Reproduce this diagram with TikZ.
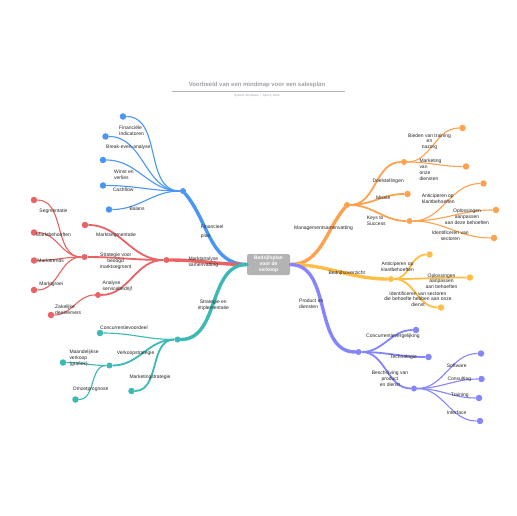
\documentclass[tikz,border=0pt]{standalone}
\usepackage{fontspec}
\setmainfont{Liberation Sans}
\usetikzlibrary{positioning}
\definecolor{finblue}{HTML}{4A96F5}
\definecolor{marktred}{HTML}{E86464}
\definecolor{stratteal}{HTML}{3BB9B4}
\definecolor{mgmtorange}{HTML}{FFA24F}
\definecolor{overzyellow}{HTML}{FFBF46}
\definecolor{prodpurple}{HTML}{8585FF}
\definecolor{centgray}{HTML}{B3B3B3}
\definecolor{titlegray}{HTML}{A0A0A8}

\begin{document}
\begin{tikzpicture}[
  x=1bp,y=-1bp,
  dot/.style={circle,fill,inner sep=0pt,minimum size=6.5bp},
  hub/.style={circle,fill,inner sep=0pt,minimum size=6bp},
  lbl/.style={font=\fontsize{5}{6}\selectfont,text=black!85,inner sep=0pt,anchor=west,align=left},
  clbl/.style={font=\fontsize{5}{6}\selectfont,text=black!85,inner sep=0pt,align=center},
  main/.style={line width=3.4bp,line cap=round},
  sub/.style={line width=1.8bp},
  leaf/.style={line width=1.1bp}
]
\fill[white] (0,0) rectangle (516,516);
\useasboundingbox (0,0) rectangle (516,516);

% title
\node[font=\bfseries\fontsize{6}{7}\selectfont,text=titlegray] (title) at (257,85) {Voorbeeld van een mindmap voor een salesplan};
\draw[titlegray!80,line width=0.5bp] (172,91) -- (345,91);
\node[font=\fontsize{3}{4}\selectfont,text=titlegray] (subtitle) at (257,95.5) {System Templates \ | \ April 4, 2023};

% center
\node[fill=centgray,rounded corners=2bp,minimum width=43bp,minimum height=21bp,inner sep=1bp,
  text=white,font=\bfseries\fontsize{5}{6}\selectfont,align=center] (plan) at (268.5,264.5) {Bedrijfsplan\\voor de\\verkoop};

% Financieel plan
\node[hub,fill=finblue] (fin) at (183,191) {};
\node[dot,fill=finblue] (indic) at (123,116.5) {};
\node[dot,fill=finblue] (breakeven) at (105.5,136.5) {};
\node[dot,fill=finblue] (winst) at (103,160) {};
\node[dot,fill=finblue] (cash) at (103,185.5) {};
\node[dot,fill=finblue] (balans) at (109,209.5) {};
\draw[main,finblue] (plan.west) to[out=180,in=-50] (fin);
\foreach \n in {indic,breakeven,winst,cash,balans}
  \draw[leaf,finblue] (fin) to[out=180,in=0] (\n);

% Marktanalyse
\node[hub,fill=marktred] (markt) at (166.5,260) {};
\node[dot,fill=marktred] (segm) at (85,225) {};
\node[hub,fill=marktred] (beoogd) at (84.5,257) {};
\node[hub,fill=marktred] (analyse) at (98,295) {};
\node[dot,fill=marktred] (segment) at (34,200) {};
\node[dot,fill=marktred] (behoeften) at (34,232.5) {};
\node[dot,fill=marktred] (trends) at (34,260.5) {};
\node[dot,fill=marktred] (groei) at (34,290) {};
\node[dot,fill=marktred] (deelnemers) at (51,315) {};
\draw[main,marktred] (plan.west) to[out=180,in=0] (markt);
\foreach \n in {segm,beoogd,analyse}
  \draw[sub,marktred] (markt) to[out=180,in=0] (\n);
\foreach \n in {segment,behoeften,trends,groei}
  \draw[leaf,marktred] (beoogd) to[out=180,in=0] (\n);
\draw[leaf,marktred] (analyse) to[out=180,in=0] (deelnemers);

% Strategie en implementatie
\node[hub,fill=stratteal] (strat) at (177.5,339.5) {};
\node[dot,fill=stratteal] (voordeel) at (100,333) {};
\node[hub,fill=stratteal] (verkoop) at (109.5,365.5) {};
\node[dot,fill=stratteal] (marketing) at (131.5,391) {};
\node[dot,fill=stratteal] (maand) at (63,362.5) {};
\node[dot,fill=stratteal] (omzet) at (75.5,399.5) {};
\draw[main,stratteal] (plan.west) to[out=180,in=0] (strat);
\draw[leaf,stratteal] (strat) to[out=180,in=0] (voordeel);
\draw[sub,stratteal] (strat) to[out=180,in=0] (verkoop);
\draw[sub,stratteal] (strat) to[out=180,in=0] (marketing);
\draw[leaf,stratteal] (verkoop) to[out=180,in=0] (maand);
\draw[leaf,stratteal] (verkoop) to[out=180,in=0] (omzet);

% Managementsamenvatting
\node[hub,fill=mgmtorange] (mgmt) at (347,205) {};
\node[hub,fill=mgmtorange] (doel) at (404,162) {};
\node[dot,fill=mgmtorange] (missie) at (407.5,194) {};
\node[hub,fill=mgmtorange] (keys) at (409.5,221) {};
\node[dot,fill=mgmtorange] (bieden) at (462.5,128) {};
\node[dot,fill=mgmtorange] (mkt) at (466,166.5) {};
\node[dot,fill=mgmtorange] (antic) at (483.5,183.5) {};
\node[dot,fill=mgmtorange] (oploss) at (496,210) {};
\node[dot,fill=mgmtorange] (ident) at (494,238) {};
\draw[main,mgmtorange] (plan.east) to[out=0,in=-130] (mgmt);
\foreach \n in {doel,missie,keys}
  \draw[sub,mgmtorange] (mgmt) to[out=0,in=180] (\n);
\foreach \n in {bieden,mkt}
  \draw[leaf,mgmtorange] (doel) to[out=0,in=180] (\n);
\foreach \n in {antic,oploss,ident}
  \draw[leaf,mgmtorange] (keys) to[out=0,in=180] (\n);

% Bedrijfsoverzicht
\node[hub,fill=overzyellow] (overz) at (391,279) {};
\node[dot,fill=overzyellow] (antictwee) at (429.5,254.5) {};
\node[dot,fill=overzyellow] (oplosstwee) at (470,277.5) {};
\node[dot,fill=overzyellow] (identtwee) at (441,307.5) {};
\draw[main,overzyellow] (plan.east) to[out=0,in=180] (overz);
\foreach \n in {antictwee,oplosstwee,identtwee}
  \draw[sub,overzyellow] (overz) to[out=0,in=180] (\n);

% Product en diensten
\node[hub,fill=prodpurple] (prod) at (358.5,352) {};
\node[dot,fill=prodpurple] (vergelijk) at (416,330) {};
\node[dot,fill=prodpurple] (techno) at (428.5,357) {};
\node[hub,fill=prodpurple] (beschr) at (414,388.5) {};
\node[dot,fill=prodpurple] (software) at (481,353.5) {};
\node[dot,fill=prodpurple] (consult) at (481.5,379) {};
\node[dot,fill=prodpurple] (train) at (479,398) {};
\node[dot,fill=prodpurple] (interf) at (480,421) {};
\draw[main,prodpurple] (plan.east) to[out=0,in=180] (prod);
\foreach \n in {vergelijk,techno,beschr}
  \draw[sub,prodpurple] (prod) to[out=0,in=180] (\n);
\foreach \n in {software,consult,train,interf}
  \draw[leaf,prodpurple] (beschr) to[out=0,in=180] (\n);

% labels
\node[lbl,font=\fontsize{5}{9}\selectfont] (lfin) at (200.7,231.5) {Financieel\\plan};
\node[lbl] (lindic) at (119,131) {Financiële\\Indicatoren};
\node[lbl] (lbreak) at (106,147) {Break-even-analyse};
\node[lbl] (lwinst) at (114,174.5) {Winst en\\verlies};
\node[lbl] (lcash) at (112.7,190) {Cashflow};
\node[lbl] (lbalans) at (129.3,209) {Balans};

\node[lbl] (lmarkt) at (188.3,262) {Marktanalyse\\samenvatting};
\node[lbl] (lsegm) at (96,235) {Marktsegmentatie};
\node[clbl] (lbeoogd) at (115.7,261) {Strategie voor\\beoogd\\marktsegment};
\node[lbl] (lanalyse) at (102.5,286) {Analyse\\servicebedrijf};
\node[lbl] (lsegment) at (39.3,211.7) {Segmentatie};
\node[lbl] (lbehoeften) at (36,234.7) {Marktbehoeften};
\node[lbl] (ltrends) at (37.3,260.7) {Markttrends};
\node[lbl] (lgroei) at (39.3,284.3) {Marktgroei};
\node[lbl] (ldeelnemers) at (55,309.5) {Zakelijke\\deelnemers};

\node[clbl] (lstrat) at (213.3,305.2) {Strategie en\\implementatie};
\node[lbl] (lvoordeel) at (100,327.3) {Concurrentievoordeel};
\node[lbl] (lverkoop) at (116.7,353.3) {Verkoopstrategie};
\node[lbl] (lmaand) at (69.3,358) {Maandelijkse\\verkoop\\(grafiek)};
\node[lbl] (lomzet) at (72.7,389.3) {Omzetprognose};
\node[lbl] (lmarketing) at (129.3,377.3) {Marketingstrategie};

\node[lbl] (lmgmt) at (294,228) {Managementsamenvatting};
\node[lbl] (ldoel) at (372.3,181) {Doelstellingen};
\node[lbl] (lmissie) at (376,197.7) {Missie};
\node[lbl] (lkeys) at (366.7,220.5) {Keys to\\Success};
\node[clbl] (lbieden) at (429.5,141.7) {Bieden van training\\en\\nazorg};
\node[lbl] (lmkt) at (419.3,170) {Marketing\\van\\onze\\diensten};
\node[lbl] (lantic) at (421.7,199) {Anticiperen op\\klantbehoeften};
\node[clbl] (loploss) at (467,216.8) {Oplossingen\\aanpassen\\aan deze behoeften};
\node[clbl] (lident) at (450.3,236.2) {Identificeren van\\sectoren};

\node[lbl] (loverz) at (328.3,273.7) {Bedrijfsoverzicht};
\node[clbl] (lantictwee) at (397.5,267) {Anticiperen op\\klantbehoeften};
\node[clbl] (loplosstwee) at (441.5,281.2) {Oplossingen\\aanpassen\\aan behoeften};
\node[clbl] (lidenttwee) at (418,299.2) {Identificeren van sectoren\\die behoefte hebben aan onze\\dienst};

\node[lbl] (lprod) at (299,303.7) {Product en\\diensten};
\node[lbl] (lvergelijk) at (366,336.7) {Concurrentievergelijking};
\node[lbl] (ltechno) at (390,357) {Technologie};
\node[clbl] (lbeschr) at (390,378.5) {Beschrijving van\\product\\en dienst};
\node[lbl] (lsoftware) at (446.7,366) {Software};
\node[lbl] (lconsult) at (447.3,379.3) {Consulting};
\node[lbl] (ltrain) at (450.7,395) {Training};
\node[lbl] (linterf) at (446.7,412.3) {Interface};
\end{tikzpicture}
\end{document}
